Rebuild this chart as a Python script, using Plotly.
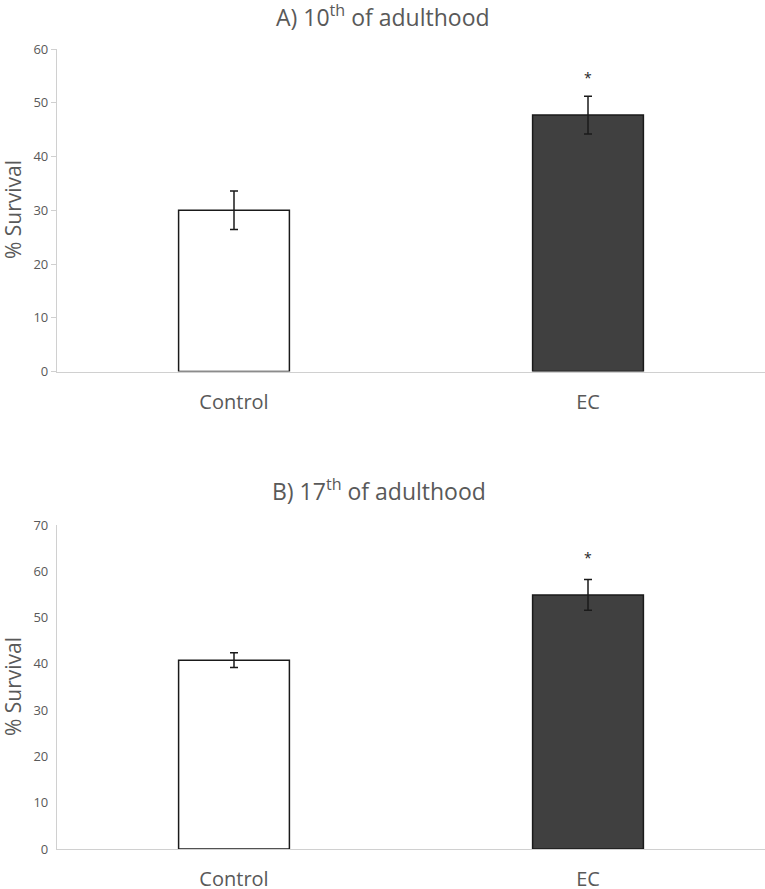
import plotly.graph_objects as go

categories = ["Control", "EC"]

# Panel A: 10th day of adulthood
a_values = [30.0, 47.7]
a_errors = [3.6, 3.5]
a_sig = ["", "*"]

# Panel B: 17th day of adulthood
b_values = [40.8, 54.9]
b_errors = [1.6, 3.3]
b_sig = ["", "*"]

a_ticks = [0, 10, 20, 30, 40, 50, 60]
b_ticks = [0, 10, 20, 30, 40, 50, 60, 70]

bar_colors = ["#ffffff", "#404040"]
font_family = "Open Sans, Liberation Sans, sans-serif"
text_gray = "#595959"

W = 765
H = 889.0
L = 57
PW = W - L

fig = go.Figure()

for vals, errs, xa, ya in [(a_values, a_errors, "x", "y"), (b_values, b_errors, "x2", "y2")]:
    fig.add_trace(go.Bar(
        x=categories, y=vals,
        marker=dict(color=bar_colors, line=dict(color="#1a1a1a", width=1.5)),
        error_y=dict(type="data", array=errs, visible=True, color="#1a1a1a",
                     thickness=1.5, width=4),
        xaxis=xa, yaxis=ya, showlegend=False, hoverinfo="skip",
    ))

# significance stars
for vals, errs, sig, xr, yr, shift in [(a_values, a_errors, a_sig, "x", "y", 7),
                                       (b_values, b_errors, b_sig, "x2", "y2", 11)]:
    for c, v, e, s in zip(categories, vals, errs, sig):
        if s:
            fig.add_annotation(x=c, y=v + e, xref=xr, yref=yr, text=s, showarrow=False,
                               yanchor="bottom", yshift=shift,
                               font=dict(size=14, color="#262626", family=font_family))


def ydom(top_px, bot_px):
    return [1 - bot_px / H, 1 - top_px / H]


def px_x(x):
    return (x - L) / PW


def px_y(y):
    return 1 - y / H


axis_common = dict(showgrid=False, zeroline=False, showline=True, linecolor="#d0d0d0",
                   linewidth=1.2, automargin=False)

fig.update_layout(
    width=W, height=H,
    margin=dict(l=L, r=0, t=0, b=0, autoexpand=False),
    paper_bgcolor="white", plot_bgcolor="white",
    font=dict(family=font_family, color=text_gray),
    bargap=0.687,
    xaxis=dict(domain=[0, 1], anchor="y", ticks="", tickfont=dict(size=20, color=text_gray),
               ticklabelstandoff=12, **axis_common),
    yaxis=dict(domain=ydom(49, 371.5), anchor="x", range=[0, 60], tickvals=a_ticks,
               ticks="outside", ticklen=5, tickcolor="#d0d0d0",
               tickfont=dict(size=13, color=text_gray), **axis_common),
    xaxis2=dict(domain=[0, 1], anchor="y2", ticks="", tickfont=dict(size=20, color=text_gray),
                ticklabelstandoff=12, **axis_common),
    yaxis2=dict(domain=ydom(525, 849), anchor="x2", range=[0, 70], tickvals=b_ticks,
                ticks="outside", ticklen=5, tickcolor="rgba(0,0,0,0)",
                tickfont=dict(size=13, color=text_gray), **axis_common),
)

# panel titles
fig.add_annotation(x=px_x(383), xref="paper", y=px_y(16), yref="paper",
                   text="A) 10<sup>th</sup> of adulthood", showarrow=False,
                   xanchor="center", yanchor="middle",
                   font=dict(size=23, color=text_gray, family=font_family))
fig.add_annotation(x=px_x(379), xref="paper", y=px_y(490), yref="paper",
                   text="B) 17<sup>th</sup> of adulthood", showarrow=False,
                   xanchor="center", yanchor="middle",
                   font=dict(size=23, color=text_gray, family=font_family))

# y-axis titles
for yc in [210, 687]:
    fig.add_annotation(x=px_x(13), xref="paper", y=px_y(yc), yref="paper",
                       text="% Survival", textangle=-90, showarrow=False,
                       xanchor="center", yanchor="middle",
                       font=dict(size=21, color=text_gray, family=font_family))

fig.write_html("out.html", config={"displayModeBar": False},
               post_script="document.body.style.margin='0';")
